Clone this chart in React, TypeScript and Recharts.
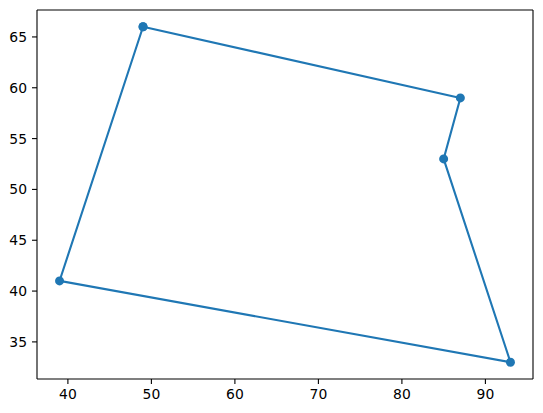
import React from 'react';
import { LineChart, Line, XAxis, YAxis } from 'recharts';

// polygon vertices, in drawing order (closed back to the first one)
const xValues = [49, 87, 85, 93, 39, 49];
const yValues = [66, 59, 53, 33, 41, 66];
const xTicks = [40, 50, 60, 70, 80, 90];
const yTicks = [35, 40, 45, 50, 55, 60, 65];

const data = xValues.map((x, i) => ({ x, y: yValues[i] }));

const tickStyle = { fill: '#000', fontSize: 13.9, fontFamily: 'DejaVu Sans' };
const axisLine = { stroke: '#000', strokeWidth: 1.1 };
const tickLine = { stroke: '#000', strokeWidth: 1.1 };

const App: React.FC = () => {
  return (
    <div style={{ position: 'fixed', left: 0, top: 0, width: 543, height: 413, background: '#fff' }}>
      <LineChart width={543} height={413} data={data} margin={{ top: 9, right: 9, left: 0, bottom: 0 }}>
        <XAxis
          xAxisId="bottom"
          dataKey="x"
          type="number"
          domain={[36.3, 95.7]}
          ticks={xTicks}
          height={34}
          axisLine={axisLine}
          tickLine={tickLine}
          tickSize={5}
          tickMargin={5}
          tick={tickStyle}
          allowDataOverflow
        />
        <XAxis
          xAxisId="top"
          orientation="top"
          dataKey="x"
          type="number"
          domain={[36.3, 95.7]}
          height={1}
          tick={false}
          tickLine={false}
          axisLine={axisLine}
        />
        <YAxis
          yAxisId="left"
          type="number"
          domain={[31.35, 67.65]}
          ticks={yTicks}
          width={37}
          axisLine={axisLine}
          tickLine={tickLine}
          tickSize={5}
          tickMargin={5}
          tick={tickStyle}
          allowDataOverflow
        />
        <YAxis
          yAxisId="right"
          orientation="right"
          type="number"
          domain={[31.35, 67.65]}
          width={1}
          tick={false}
          tickLine={false}
          axisLine={axisLine}
        />
        <Line
          xAxisId="bottom"
          yAxisId="left"
          dataKey="y"
          type="linear"
          stroke="#1f77b4"
          strokeWidth={2.1}
          dot={{ r: 4.5, fill: '#1f77b4', stroke: '#1f77b4', strokeWidth: 0 }}
          activeDot={false}
          isAnimationActive={false}
        />
      </LineChart>
    </div>
  );
};

export default App;
